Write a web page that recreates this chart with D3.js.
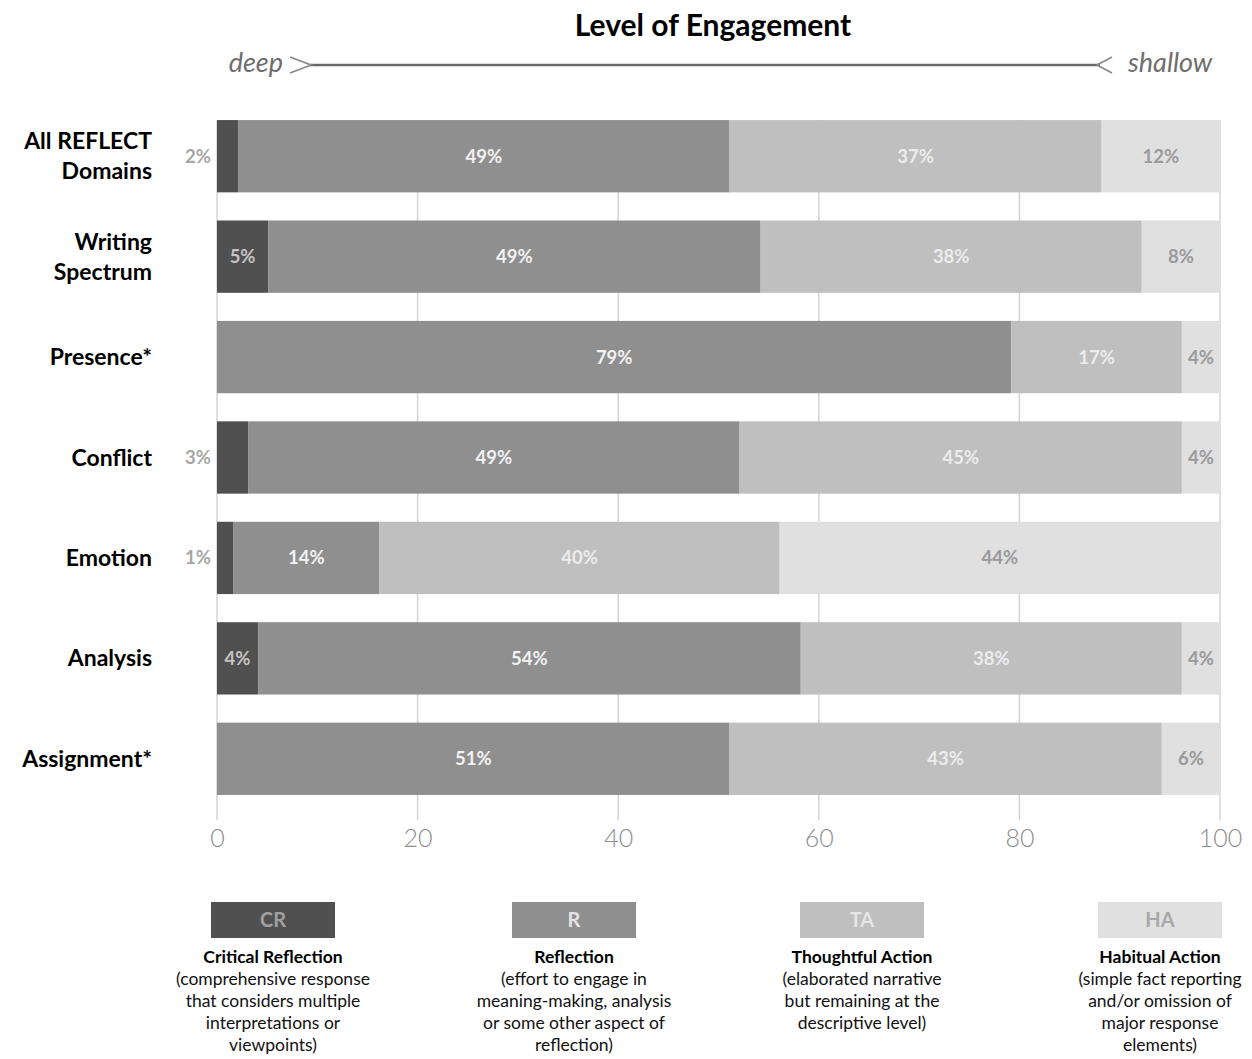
<!DOCTYPE html>
<html>
<head>
<meta charset="utf-8">
<script src="https://cdn.jsdelivr.net/npm/d3@7"></script>
<style>
  html, body { margin: 0; padding: 0; background: #fff; }
  svg { display: block; font-family: Lato, "Open Sans", sans-serif; }
</style>
</head>
<body>
<svg id="chart" width="1252" height="1059"></svg>
<script>
// ---------------- DATA ----------------
const categories = [["All REFLECT", "Domains"], ["Writing", "Spectrum"], ["Presence*"], ["Conflict"], ["Emotion"], ["Analysis"], ["Assignment*"]];
const seriesKeys = ["CR", "R", "TA", "HA"];
const crValues = [2.1, 5.1, 0, 3.1, 1.6, 4.1, 0];
const rValues  = [49.0, 49.1, 79.2, 49.0, 14.6, 54.1, 51.1];
const taValues = [37.1, 38.0, 17.0, 44.1, 39.9, 38.0, 43.1];
const haValues = [11.8, 7.8, 3.8, 3.8, 43.9, 3.8, 5.8];
const crLabels = ["2%", "5%", "", "3%", "1%", "4%", ""];
const rLabels  = ["49%", "49%", "79%", "49%", "14%", "54%", "51%"];
const taLabels = ["37%", "38%", "17%", "45%", "40%", "38%", "43%"];
const haLabels = ["12%", "8%", "4%", "4%", "44%", "4%", "6%"];
const xTicks = [0, 20, 40, 60, 80, 100];
const title = "Level of Engagement";
const deepLabel = "deep", shallowLabel = "shallow";
const legendTitles = ["Critical Reflection", "Reflection", "Thoughtful Action", "Habitual Action"];
const legendDescs = [
  ["(comprehensive response", "that considers multiple", "interpretations or", "viewpoints)"],
  ["(effort to engage in", "meaning-making, analysis", "or some other aspect of", "reflection)"],
  ["(elaborated narrative", "but remaining at the", "descriptive level)"],
  ["(simple fact reporting", "and/or omission of", "major response", "elements)"]
];

// ---------------- STYLE ----------------
const fills = { CR: "#505050", R: "#8f8f8f", TA: "#bfbfbf", HA: "#e0e0e0" };
const labelColors = { CR: "#c4c4c4", R: "#f2f2f2", TA: "#ececec", HA: "#9a9a9a" };
const legendCodeColors = { CR: "#a0a0a0", R: "#e2e2e2", TA: "#e6e6e6", HA: "#a8a8a8" };

const table = categories.map((c, i) => ({
  idx: i, CR: crValues[i], R: rValues[i], TA: taValues[i], HA: haValues[i],
  labels: { CR: crLabels[i], R: rLabels[i], TA: taLabels[i], HA: haLabels[i] }
}));

const svg = d3.select("#chart");
const x = d3.scaleLinear().domain([0, 100]).range([217, 1220]);
const y = d3.scaleBand().domain(d3.range(categories.length)).range([106, 809])
  .paddingInner(0.28).paddingOuter(0.14);

// gridlines
svg.append("g").selectAll("line").data(xTicks).join("line")
  .attr("x1", d => x(d)).attr("x2", d => x(d))
  .attr("y1", 120).attr("y2", 820)
  .attr("stroke", "#d4d4d4").attr("stroke-width", 1.5);

// axis labels
const axis = d3.axisBottom(x).tickValues(xTicks).tickSize(0).tickPadding(0);
const gAxis = svg.append("g").attr("transform", "translate(0,829)").call(axis);
gAxis.select(".domain").remove();
gAxis.selectAll("text").attr("fill", "#8c8c8c").attr("font-size", 25)
  .attr("font-family", "Lato, sans-serif").attr("font-weight", 300);

// stacked bars
const stack = d3.stack().keys(seriesKeys)(table);
const layers = svg.append("g").selectAll("g").data(stack).join("g")
  .attr("fill", d => fills[d.key]);
layers.selectAll("rect").data(d => d.map(v => ({ v, key: d.key }))).join("rect")
  .attr("x", d => x(d.v[0]))
  .attr("width", d => x(d.v[1]) - x(d.v[0]))
  .attr("y", d => y(d.v.data.idx))
  .attr("height", y.bandwidth());

// bar labels
const labG = svg.append("g").attr("font-weight", 700).attr("font-size", 18.5);
stack.forEach(layer => {
  layer.forEach(v => {
    const txt = v.data.labels[layer.key];
    if (!txt) return;
    const w = x(v[1]) - x(v[0]);
    const cy = y(v.data.idx) + y.bandwidth() / 2;
    const outside = w < 36;
    labG.append("text")
      .attr("x", outside ? x(v[0]) - 6 : (x(v[0]) + x(v[1])) / 2)
      .attr("y", cy)
      .attr("dy", "0.35em")
      .attr("text-anchor", outside ? "end" : "middle")
      .attr("fill", outside ? "#a6a6a6" : labelColors[layer.key])
      .text(txt);
  });
});

// category labels
const catG = svg.append("g").attr("font-weight", 700).attr("font-size", 23).attr("fill", "#000");
categories.forEach((lines, i) => {
  const cy = y(i) + y.bandwidth() / 2;
  const lh = 30;
  const t = catG.append("text").attr("text-anchor", "end");
  lines.forEach((ln, j) => {
    t.append("tspan").attr("x", 152)
      .attr("y", cy + (j - (lines.length - 1) / 2) * lh)
      .attr("dy", "0.35em").text(ln);
  });
});

// title & engagement arrow
svg.append("text").attr("x", 713).attr("y", 25).attr("dy", "0.35em")
  .attr("text-anchor", "middle").attr("font-weight", 700).attr("font-size", 30)
  .attr("fill", "#000").text(title);
svg.append("text").attr("x", 283).attr("y", 63).attr("dy", "0.35em")
  .attr("text-anchor", "end").attr("font-style", "italic").attr("font-size", 27)
  .attr("fill", "#6e6e6e").text(deepLabel);
svg.append("text").attr("x", 1128).attr("y", 63).attr("dy", "0.35em")
  .attr("text-anchor", "start").attr("font-style", "italic").attr("font-size", 27)
  .attr("fill", "#6e6e6e").text(shallowLabel);
svg.append("line").attr("x1", 310).attr("x2", 1100).attr("y1", 65).attr("y2", 65)
  .attr("stroke", "#6a6a6a").attr("stroke-width", 2.5);
svg.append("path").attr("d", "M290,57 L311,65 L290,73")
  .attr("fill", "none").attr("stroke", "#8a8a8a").attr("stroke-width", 1.8);
svg.append("path").attr("d", "M1112,57 L1097,65 L1112,73")
  .attr("fill", "none").attr("stroke", "#8a8a8a").attr("stroke-width", 1.8);

// legend
const legendCenters = [273, 574, 862, 1160];
seriesKeys.forEach((k, i) => {
  const cx = legendCenters[i];
  svg.append("rect").attr("x", cx - 62).attr("y", 902).attr("width", 124).attr("height", 36)
    .attr("fill", fills[k]);
  svg.append("text").attr("x", cx).attr("y", 920).attr("dy", "0.35em")
    .attr("text-anchor", "middle").attr("font-weight", 700).attr("font-size", 20)
    .attr("fill", legendCodeColors[k]).text(k);
  svg.append("text").attr("x", cx).attr("y", 957).attr("dy", "0.35em")
    .attr("text-anchor", "middle").attr("font-weight", 700).attr("font-size", 17.5)
    .attr("fill", "#000").text(legendTitles[i]);
  legendDescs[i].forEach((ln, j) => {
    svg.append("text").attr("x", cx).attr("y", 979 + j * 22).attr("dy", "0.35em")
      .attr("text-anchor", "middle").attr("font-size", 17.5)
      .attr("fill", "#111").text(ln);
  });
});
</script>
</body>
</html>
